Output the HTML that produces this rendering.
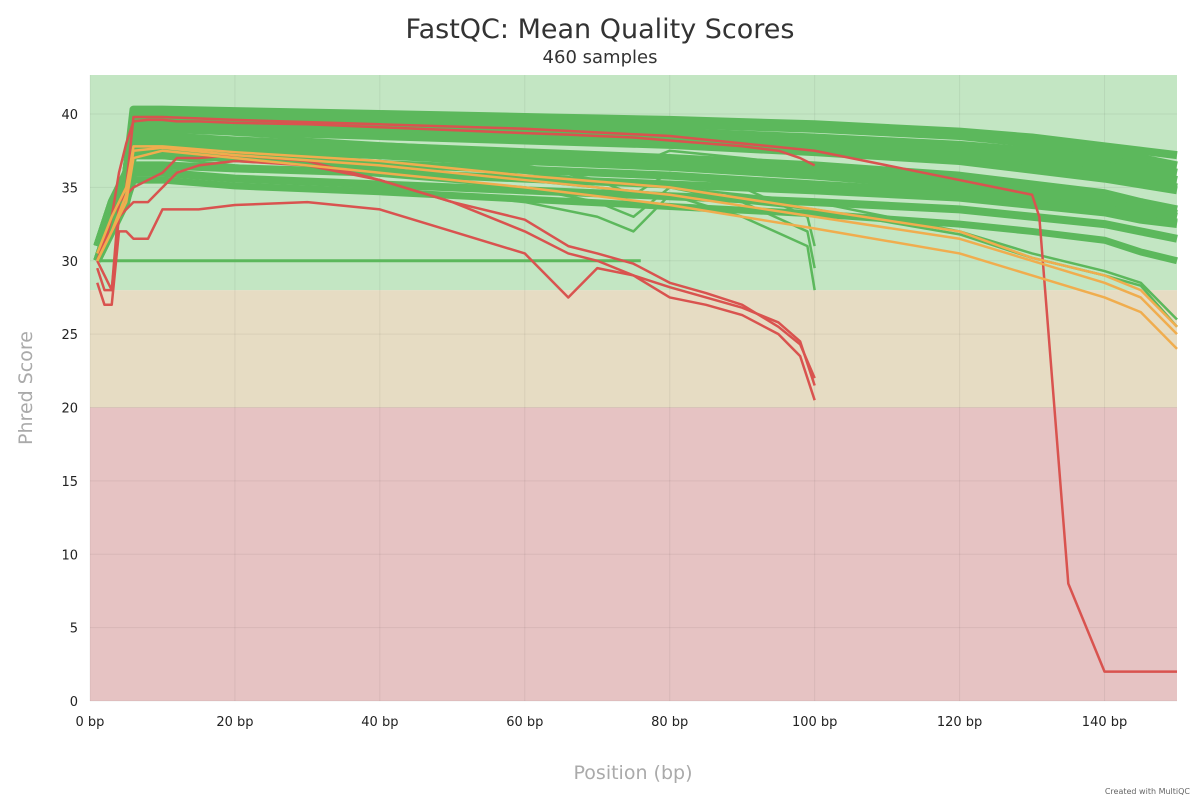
<!DOCTYPE html>
<html><head><meta charset="utf-8"><style>
body{margin:0;background:#fff;font-family:"DejaVu Sans",sans-serif}
svg text{font-family:"DejaVu Sans",sans-serif}
</style></head><body>
<svg id="chart" width="1200" height="800" xmlns="http://www.w3.org/2000/svg">
<text x="600" y="38" text-anchor="middle" font-size="27" fill="#333">FastQC: Mean Quality Scores</text>
<text x="600" y="63" text-anchor="middle" font-size="18" fill="#333">460 samples</text>
<text transform="translate(32,388) rotate(-90)" text-anchor="middle" font-size="19" fill="#aaa">Phred Score</text>
<text x="633" y="779" text-anchor="middle" font-size="19" fill="#aaa">Position (bp)</text>
<text x="1190" y="794" text-anchor="end" font-size="8" fill="#666" font-family="Liberation Serif">Created with MultiQC</text>
<g id="bands"></g><g id="grid"></g><g id="lines"></g><g id="ticks"></g>
</svg>
<script>
const X0=90,X1=1177,Y0=701,Y1=75,XMAX=150,YMAX=42.66;
const sx=v=>X0+(X1-X0)*v/XMAX, sy=v=>Y0-(Y0-Y1)*v/YMAX;
const NS="http://www.w3.org/2000/svg";
function mk(t,a,p){const e=document.createElementNS(NS,t);for(const k in a)e.setAttribute(k,a[k]);p.appendChild(e);return e;}
const xTicks=[0,20,40,60,80,100,120,140];
const yTicks=[0,5,10,15,20,25,30,35,40];
const bandLimits=[0,20,28,YMAX];
const bandColors=["#e6c3c3","#e6dcc3","#c3e6c3"];
const xs150=[1,3,5,6,10,20,40,60,80,100,120,130,140,145,150];
const g1=[30,33,36,40.3,40.3,40.2,40,39.8,39.6,39.3,38.8,38.4,37.8,37.5,37.2];
const g2=[31,34,36,40,40,39.9,39.7,39.5,39.3,39,38.5,38,37.5,37,36.5];
const g3=[31,34,36,39.5,39.5,39.3,39,38.7,38.4,38,37.4,37,36.5,36,35.5];
const g4=[30,33,35,39,39,38.8,38.5,38.2,37.9,37.4,36.8,36.2,35.6,35.2,34.8];
const g5=[30,33,35,38.5,38.5,38.2,37.8,37.4,37,36.5,35.8,35.2,34.6,34,33.5];
const g6=[30,32,34,36.5,36.5,36.3,36,35.6,35.2,34.8,34.3,33.8,33.3,32.8,32.5];
const g7=[30,32,34,36,36,35.6,35.2,34.8,34.4,34,33.5,33,32.5,32,31.5];
const g8=[30,32,34,35.5,35.5,35.1,34.7,34.2,33.7,33.2,32.5,32,31.4,30.6,30];
const g9=[30,32,35,37,37,36.8,36.3,35.5,34.5,33.5,31.8,30.2,29,28.3,25.5];
const g10=[30,32,35,37.5,37.5,37.2,36.8,36,35,34,32,30.5,29.3,28.5,26];
const g11=[31,34,36,39.2,39.2,39,38.8,38.5,38.2,37.7,37,36.5,36,35.5,35];
const g12=[30,33,35,37.8,37.8,37.5,37.2,36.8,36.4,35.8,35,34.5,34,33.5,33];
const g13=[30,33,35,37.2,37.2,37,36.6,36.2,35.8,35.2,34.6,34.1,33.6,33,32.6];
const g14=[31,34,36,39.8,39.8,39.6,39.4,39.1,38.8,38.4,37.9,37.5,37,36.5,36];
const g15=[30,33,35,38.2,38.2,37.9,37.5,37.1,36.7,36.1,35.4,34.8,34.2,33.7,33.2];
const xs100=[1,3,5,6,10,20,40,60,70,75,80,90,99,100];
const h1=[30,33,35,38,38,37.6,37,36.5,35.5,34.5,36,35,33,31];
const h2=[30,32,34,37,37,36.5,35.8,35,34,33,35,34,32,29.5];
const h3=[30,32,34,36,36,35.5,35,34,33,32,34.5,33,31,28];
const h4=[30,33,35,39,39,38.6,38,37.5,37,36.5,37.5,37,36.5,36];
const xsFlat=[1,76];
const f1=[30,30];
const o1=[30,32,34.5,37.5,37.7,37.2,36.5,35.5,34.5,33,31.5,30,28.5,27.5,25];
const o2=[30,32,34,37,37.5,37,36,35,33.8,32.2,30.5,29,27.5,26.5,24];
const o3=[30.5,33,35,37.8,37.8,37.4,36.8,35.8,35,33.5,32,30.2,29,28,25.5];
const xsDrop=[1,3,5,6,10,20,40,60,80,100,110,120,130,131,135,140,150];
const r1=[30,33,35,39.8,39.8,39.6,39.3,39,38.5,37.5,36.5,35.5,34.5,33,8,2,2];
const xsRed=[1,2,3,4,5,6,8,10,12,15,20,30,40,50,60,66,70,75,80,85,90,95,98,100];
const r2=[28.5,27,27,32,32,31.5,31.5,33.5,33.5,33.5,33.8,34,33.5,32,30.5,27.5,29.5,29,27.5,27,26.3,25,23.5,20.5];
const r3=[29.5,28,28,33,33.5,34,34,35,36,36.5,36.8,36.5,35.5,34,32.8,31,30.5,29.8,28.5,27.8,27,25.5,24.3,22];
const r4=[30,29,28,34,34.5,35,35.5,36,37,37,37.2,36.8,35.5,34,32,30.5,30,29,28.2,27.5,26.8,25.8,24.5,21.5];
const r5=[30,31,33,36,38,39.5,39.6,39.6,39.5,39.5,39.4,39.3,39.1,38.9,38.7,38.6,38.5,38.4,38.2,38,37.8,37.5,37,36.5];
const bg=document.getElementById('bands');
for(let i=0;i<3;i++){const r=mk('rect',{x:X0,y:sy(bandLimits[i+1]),width:X1-X0,height:sy(bandLimits[i])-sy(bandLimits[i+1]),fill:bandColors[i]},bg);

}
const gg=document.getElementById('grid'),tg=document.getElementById('ticks');
xTicks.forEach(v=>{mk('line',{x1:sx(v),x2:sx(v),y1:Y1,y2:Y0,stroke:'rgba(0,0,0,0.06)'},gg);
const t=mk('text',{x:sx(v),y:Y0+25,'text-anchor':'middle','font-size':13,fill:'#222'},tg);t.textContent=v+' bp';

});
yTicks.forEach(v=>{mk('line',{x1:X0,x2:X1,y1:sy(v),y2:sy(v),stroke:'rgba(0,0,0,0.06)'},gg);
const t=mk('text',{x:X0-12,y:sy(v)+5,'text-anchor':'end','font-size':13,fill:'#222'},tg);t.textContent=v;

});
const series=[
[xs150,g1,'#5cb85c',8],[xs150,g14,'#5cb85c',8],[xs150,g2,'#5cb85c',8],[xs150,g3,'#5cb85c',8],[xs150,g11,'#5cb85c',8],[xs150,g4,'#5cb85c',8],[xs150,g5,'#5cb85c',8],[xs150,g15,'#5cb85c',8],[xs150,g12,'#5cb85c',8],[xs150,g13,'#5cb85c',8],[xs150,g6,'#5cb85c',8],[xs150,g7,'#5cb85c',8],[xs150,g8,'#5cb85c',7],[xs150,g9,'#5cb85c',2.5],[xs150,g10,'#5cb85c',2.5],
[xs100,h1,'#5cb85c',2.5],[xs100,h2,'#5cb85c',2.5],[xs100,h3,'#5cb85c',2.5],[xs100,h4,'#5cb85c',2.5],[xsFlat,f1,'#5cb85c',3],
[xsRed,r5,'#d9534f',2.5],[xsDrop,r1,'#d9534f',2.5],[xsRed,r2,'#d9534f',2.5],[xsRed,r3,'#d9534f',2.5],[xsRed,r4,'#d9534f',2.5],
[xs150,o1,'#f0ad4e',2.5],[xs150,o2,'#f0ad4e',2.5],[xs150,o3,'#f0ad4e',2.5]];
const lg=document.getElementById('lines');
series.forEach(([xs,ys,c,w])=>{const p=mk('polyline',{points:xs.map((x,i)=>sx(x)+','+sy(ys[i])).join(' '),fill:'none',stroke:c,'stroke-width':w,'stroke-linejoin':'round'},lg);

});
</script>
</body></html>
